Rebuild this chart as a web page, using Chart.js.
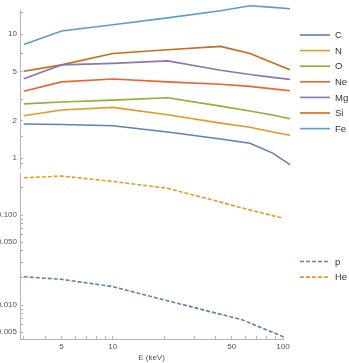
<!DOCTYPE html>
<html><head><meta charset="utf-8">
<script src="https://cdn.jsdelivr.net/npm/chart.js@4/dist/chart.umd.min.js"></script>
<style>
html,body{margin:0;padding:0;background:#fff;}
#wrap{position:relative;width:349px;height:363px;overflow:hidden;}
canvas{position:absolute;left:0;top:0;}
</style></head><body>
<div id="wrap"><canvas id="upper" width="349" height="363"></canvas><canvas id="lower" width="349" height="363"></canvas></div>
<script>
// ---- data ----
const energies = [3, 5, 10, 21, 43, 64, 87, 110];          // keV
const C  = [1.89, 1.87, 1.83, 1.63, 1.43, 1.32, 1.10, 0.89];
const N  = [2.20, 2.45, 2.57, 2.24, 1.92, 1.78, 1.63, 1.53];
const O  = [2.74, 2.84, 2.94, 3.07, 2.63, 2.40, 2.23, 2.08];
const Ne = [3.46, 4.12, 4.35, 4.12, 3.95, 3.79, 3.62, 3.50];
const Mg = [4.37, 5.65, 5.81, 6.08, 5.11, 4.72, 4.48, 4.32];
const Si = [5.02, 5.65, 6.98, 7.47, 7.96, 6.98, 5.87, 5.17];
const Fe = [8.25, 10.6, 11.9, 13.5, 15.4, 16.9, 16.4, 16.0];

const pEnergies = [3, 5, 10, 58, 100];
const p  = [0.0206, 0.0193, 0.0160, 0.00681, 0.00445];
const heEnergies = [3, 5, 10, 21, 64, 100];
const He = [0.259, 0.271, 0.236, 0.198, 0.114, 0.092];

const upperTickValues = [0.9, 1, 1.5, 2, 3, 5, 7, 10, 15];
const upperTickLabels = {1: '1', 2: '2', 5: '5', 10: '10'};
const lowerTickValues = [0.005, 0.006, 0.007, 0.008, 0.009, 0.01, 0.02, 0.03, 0.04, 0.05, 0.06, 0.07, 0.08, 0.09, 0.1, 0.2];
const lowerTickLabels = {0.005: '0.005', 0.01: '0.010', 0.05: '0.050', 0.1: '0.100'};
const xTickValues = [3, 4, 5, 6, 7, 8, 9, 10, 20, 30, 40, 50, 60, 70, 80, 90, 100];
const xTickLabels = {5: '5', 10: '10', 50: '50', 100: '100'};
const xTitle = 'E (keV)';

// ---- styling ----
const FONT = '"Liberation Sans", Arial, sans-serif';
const AXIS = '#b4b4b4';
const TEXT = '#555555';
const colors = {C:'#5E81B5', N:'#E19C24', O:'#8FB032', Ne:'#EB6235', Mg:'#8778B3', Si:'#C56E1A', Fe:'#5D9EC7'};

const pts = (xs, ys) => xs.map((x, i) => ({x: x, y: ys[i]}));
const line = (label, xs, ys, color, dash) => ({
  label, data: pts(xs, ys), borderColor: color, backgroundColor: color,
  borderWidth: 1.6, borderDash: dash || [], pointRadius: 0, tension: 0, fill: false, clip: false
});

const sideLegend = {
  id: 'sideLegend',
  afterDraw(chart, args, o) {
    const ctx = chart.ctx; ctx.save();
    chart.data.datasets.forEach((ds, i) => {
      const y = o.y0 + i * o.dy;
      ctx.strokeStyle = ds.borderColor; ctx.lineWidth = ds.borderWidth;
      ctx.setLineDash(ds.borderDash || []);
      ctx.beginPath(); ctx.moveTo(o.x0, y); ctx.lineTo(o.x1, y); ctx.stroke();
      ctx.setLineDash([]);
      ctx.fillStyle = '#333'; ctx.font = '9.5px ' + FONT; ctx.textBaseline = 'middle'; ctx.textAlign = 'left';
      ctx.fillText(ds.label, o.x1 + 5, y + 0.5);
    });
    ctx.restore();
  }
};

function yAxis(min, max, values, labels) {
  return {
    type: 'logarithmic', min, max, position: 'left',
    afterFit(s) { s.width = 20; },
    afterBuildTicks(s) { s.ticks = values.map(v => ({value: v})); },
    ticks: { autoSkip: false, padding: 6, color: TEXT, font: {family: FONT, size: 8},
      callback: (v) => labels[v] !== undefined ? labels[v] : '' },
    grid: { drawOnChartArea: false, drawTicks: true, tickLength: -3, color: AXIS, lineWidth: 1 },
    border: { display: true, color: AXIS, width: 1 }
  };
}

const xBase = { type: 'logarithmic', min: 2.85 };

new Chart(document.getElementById('upper'), {
  type: 'line',
  data: { datasets: [
    line('C', energies, C, colors.C), line('N', energies, N, colors.N), line('O', energies, O, colors.O),
    line('Ne', energies, Ne, colors.Ne), line('Mg', energies, Mg, colors.Mg), line('Si', energies, Si, colors.Si),
    line('Fe', energies, Fe, colors.Fe)
  ]},
  options: {
    responsive: false, animation: false, events: [],
    layout: { autoPadding: false, padding: {left: 0, right: 59, top: 6, bottom: 195} },
    scales: {
      x: Object.assign({}, xBase, { max: 110, display: false }),
      y: yAxis(0.835, 15.4, upperTickValues, upperTickLabels)
    },
    plugins: { legend: {display: false}, tooltip: {enabled: false},
      sideLegend: { x0: 300, x1: 330, y0: 35, dy: 15.6 } }
  },
  plugins: [sideLegend]
});

new Chart(document.getElementById('lower'), {
  type: 'line',
  data: { datasets: [
    line('p', pEnergies, p, colors.C, [4, 2]),
    line('He', heEnergies, He, colors.N, [4, 2])
  ]},
  options: {
    responsive: false, animation: false, events: [],
    layout: { autoPadding: false, padding: {left: 0, right: 66, top: 173, bottom: 0} },
    scales: {
      x: Object.assign({}, xBase, {
        max: 100, position: 'bottom',
        afterFit(s) { s.height = 24; },
        afterBuildTicks(s) { s.ticks = xTickValues.map(v => ({value: v})); },
        ticks: { autoSkip: false, maxRotation: 0, padding: 6, color: TEXT, font: {family: FONT, size: 8},
          callback: (v) => xTickLabels[v] !== undefined ? xTickLabels[v] : '' },
        grid: { drawOnChartArea: false, drawTicks: true, tickLength: -3, color: AXIS, lineWidth: 1 },
        border: { display: true, color: AXIS, width: 1 },
        title: { display: true, text: xTitle, color: TEXT, font: {family: FONT, size: 8}, padding: {top: 0, bottom: 0} }
      }),
      y: yAxis(0.00419, 0.293, lowerTickValues, lowerTickLabels)
    },
    plugins: { legend: {display: false}, tooltip: {enabled: false},
      sideLegend: { x0: 300, x1: 330, y0: 261.5, dy: 15.6 } }
  },
  plugins: [sideLegend]
});
</script>
</body></html>
